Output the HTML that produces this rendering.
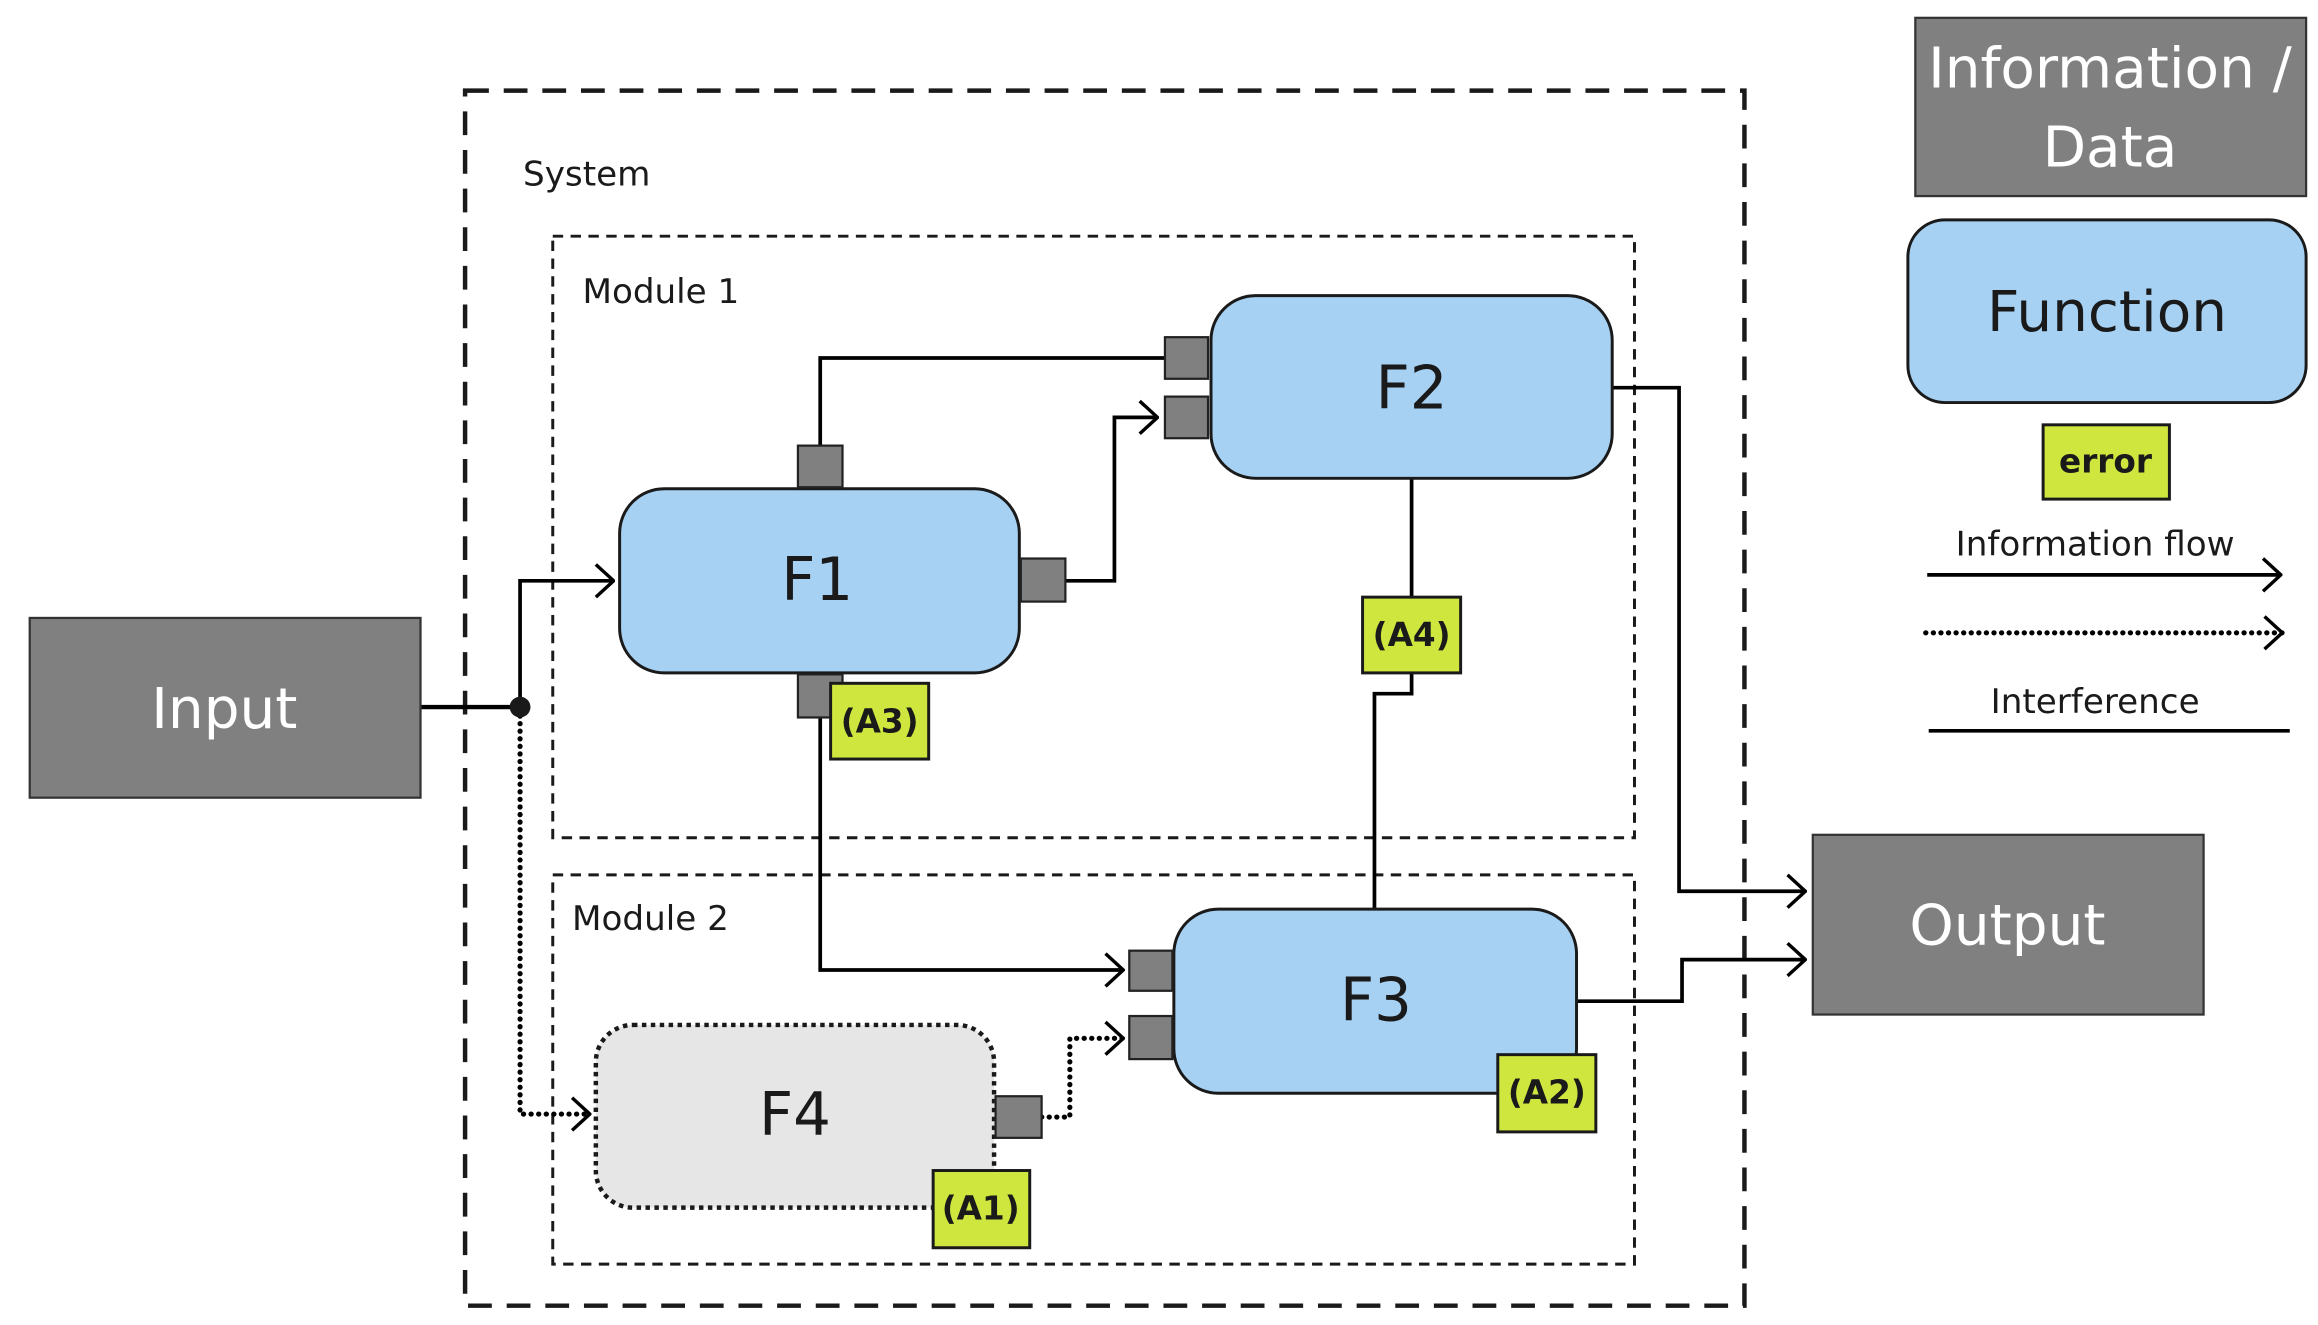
<!DOCTYPE html>
<html><head><meta charset="utf-8"><style>
html,body{margin:0;padding:0;background:#fff;}
svg{display:block;}
text{font-family:"DejaVu Sans","Liberation Sans",sans-serif;fill:#1a1a1a;}
</style></head><body>
<svg width="2318" height="1325" viewBox="0 0 1560 892" preserveAspectRatio="none" xmlns="http://www.w3.org/2000/svg">
<defs>
<marker id="ar" viewBox="0 0 14 24" refX="13" refY="12" markerWidth="14" markerHeight="24" markerUnits="userSpaceOnUse" orient="auto">
<path d="M1,1 L13,12 L1,23" fill="none" stroke="#000" stroke-width="2.3"/>
</marker>
</defs>
<rect x="313" y="61" width="861" height="818" fill="none" stroke="#1a1a1a" stroke-width="3" stroke-dasharray="16 10"/>
<text x="352" y="125" font-size="23">System</text>
<rect x="372" y="159" width="728" height="405" fill="none" stroke="#1a1a1a" stroke-width="2" stroke-dasharray="7 5"/>
<text x="392" y="204" font-size="23">Module 1</text>
<rect x="372" y="589" width="728" height="262" fill="none" stroke="#1a1a1a" stroke-width="2" stroke-dasharray="7 5"/>
<text x="385" y="626" font-size="23">Module 2</text>

<path d="M283,476 H350" stroke="#000" stroke-width="3" fill="none"/>
<path d="M350,476 V391 H413" stroke="#000" stroke-width="2.5" fill="none" marker-end="url(#ar)"/>
<path d="M350,482 V750 H397" stroke="#000" stroke-width="3.5" stroke-dasharray="0.1 5" stroke-linecap="round" fill="none" marker-end="url(#ar)"/>
<circle cx="350" cy="476" r="7" fill="#1a1a1a"/>
<path d="M784,241 H552 V300" stroke="#000" stroke-width="2.5" fill="none"/>
<path d="M717,391 H750 V281 H779" stroke="#000" stroke-width="2.5" fill="none" marker-end="url(#ar)"/>
<path d="M552,483 V653 H756" stroke="#000" stroke-width="2.5" fill="none" marker-end="url(#ar)"/>
<path d="M701,752 H720 V699 H756" stroke="#000" stroke-width="3.5" stroke-dasharray="0.1 5" stroke-linecap="round" fill="none" marker-end="url(#ar)"/>
<path d="M950,322 V402" stroke="#000" stroke-width="2.5" fill="none"/>
<path d="M950,453 V467 H925 V612" stroke="#000" stroke-width="2.5" fill="none"/>
<path d="M1085,261 H1130 V600 H1215" stroke="#000" stroke-width="2.5" fill="none" marker-end="url(#ar)"/>
<path d="M1061,674 H1132 V646 H1215" stroke="#000" stroke-width="2.5" fill="none" marker-end="url(#ar)"/>

<rect x="417" y="329" width="269" height="124" rx="30" fill="#a6d1f3" stroke="#1a1a1a" stroke-width="2"/>
<text x="550" y="404" font-size="40" text-anchor="middle">F1</text>
<rect x="815" y="199" width="270" height="123" rx="30" fill="#a6d1f3" stroke="#1a1a1a" stroke-width="2"/>
<text x="950" y="275" font-size="40" text-anchor="middle">F2</text>
<rect x="790" y="612" width="271" height="124" rx="30" fill="#a6d1f3" stroke="#1a1a1a" stroke-width="2"/>
<text x="926" y="687" font-size="40" text-anchor="middle">F3</text>
<rect x="401" y="690" width="268" height="123" rx="25" fill="#e6e6e6" stroke="#1a1a1a" stroke-width="3" stroke-dasharray="3 3"/>
<text x="535" y="764" font-size="40" text-anchor="middle">F4</text>

<g fill="#808080" stroke="#222" stroke-width="1.5">
<rect x="537" y="300" width="30" height="28"/>
<rect x="687" y="376" width="30" height="29"/>
<rect x="537" y="454" width="30" height="29"/>
<rect x="784" y="227" width="29" height="28"/>
<rect x="784" y="267" width="29" height="28"/>
<rect x="760" y="640" width="29" height="27"/>
<rect x="760" y="684" width="29" height="29"/>
<rect x="670" y="738" width="31" height="28"/>
</g>

<g fill="#cfe63f" stroke="#1a1a1a" stroke-width="2">
<rect x="559" y="460" width="66" height="51"/>
<rect x="917" y="402" width="66" height="51"/>
<rect x="1008" y="710" width="66" height="52"/>
<rect x="628" y="788" width="65" height="52"/>
<rect x="1375" y="286" width="85" height="50"/>
</g>
<g font-size="22" font-weight="bold" text-anchor="middle">
<text x="592" y="493">(A3)</text>
<text x="950" y="435">(A4)</text>
<text x="1041" y="743">(A2)</text>
<text x="660" y="821">(A1)</text>
<text x="1417" y="318">error</text>
</g>

<rect x="20" y="416" width="263" height="121" fill="#808080" stroke="#333" stroke-width="1.5"/>
<text x="151" y="490" font-size="38" text-anchor="middle" style="fill:#fff">Input</text>
<rect x="1220" y="562" width="263" height="121" fill="#808080" stroke="#333" stroke-width="1.5"/>
<text x="1351" y="636" font-size="38" text-anchor="middle" style="fill:#fff">Output</text>
<rect x="1289" y="12" width="263" height="120" fill="#808080" stroke="#333" stroke-width="1.5"/>
<text x="1420" y="59" font-size="38" text-anchor="middle" style="fill:#fff">Information /</text>
<text x="1420" y="112" font-size="38" text-anchor="middle" style="fill:#fff">Data</text>

<rect x="1284" y="148" width="268" height="123" rx="25" fill="#a6d1f3" stroke="#1a1a1a" stroke-width="2"/>
<text x="1418" y="223" font-size="38" text-anchor="middle">Function</text>
<text x="1410" y="374" font-size="23" text-anchor="middle">Information flow</text>
<path d="M1297,387 H1535" stroke="#000" stroke-width="2.5" fill="none" marker-end="url(#ar)"/>
<path d="M1296,426 H1536" stroke="#000" stroke-width="3.5" stroke-dasharray="0.1 5" stroke-linecap="round" fill="none" marker-end="url(#ar)"/>
<text x="1410" y="480" font-size="23" text-anchor="middle">Interference</text>
<path d="M1298,492 H1541" stroke="#000" stroke-width="2.5"/>
</svg>
</body></html>
